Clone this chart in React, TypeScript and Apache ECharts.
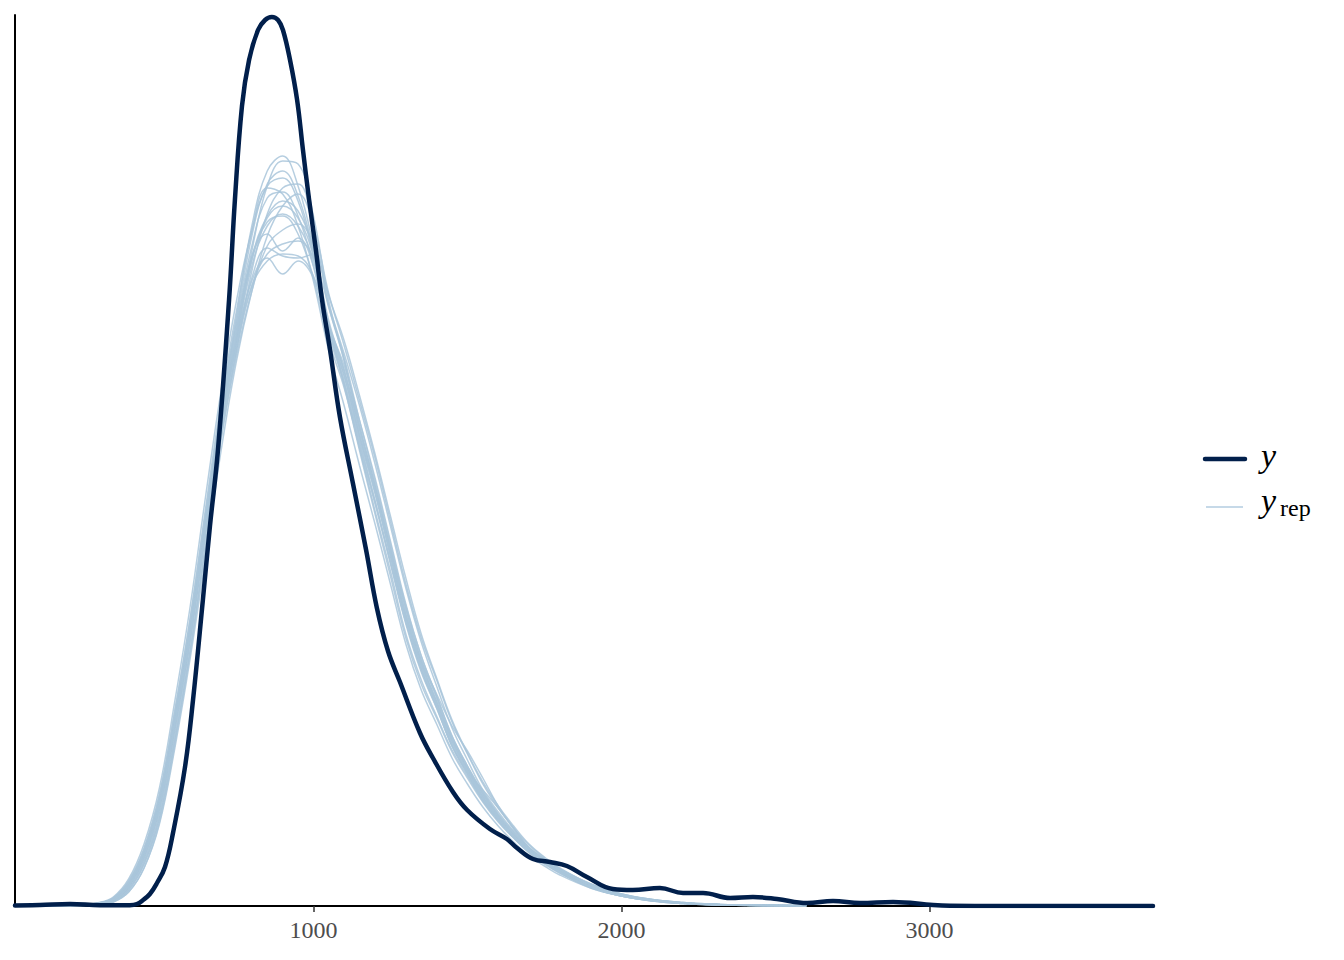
import React, { useEffect, useRef } from 'react';
import * as echarts from 'echarts';

// x positions (data units) shared by every replicated density curve
const X_GRID = [100, 200, 250, 300, 350, 400, 450, 500, 550, 600, 650, 700, 750, 800, 850, 900, 950, 1000, 1050, 1100, 1150, 1200, 1250, 1300, 1350, 1400, 1450, 1500, 1550, 1600, 1650, 1700, 1750, 1800, 1900, 2000, 2100, 2200, 2300, 2400, 2600];

// replicated densities (y_rep), estimated heights
const YREP_01 = [0.3, 0.5, 0.8, 2, 6, 20, 50, 100, 182, 272, 380, 488, 570, 648, 690, 705, 695, 656, 585, 535, 478, 420, 358, 298, 245, 203, 168, 138, 112, 90, 72, 57, 45, 35, 20, 11, 6, 3, 1.5, 0.8, 0.2];
const YREP_02 = [0.2, 0.4, 0.7, 1.8, 5, 18, 46, 95, 176, 268, 382, 497, 590, 680, 735, 750, 720, 660, 580, 522, 458, 395, 335, 272, 226, 190, 156, 130, 105, 85, 68, 54, 43, 33, 19, 10, 5, 2.5, 1.2, 0.6, 0.1];
const YREP_03 = [0.4, 0.7, 1.2, 3, 8, 24, 56, 108, 190, 280, 385, 485, 560, 620, 645, 652, 650, 630, 580, 540, 485, 428, 365, 302, 250, 210, 170, 140, 114, 92, 74, 58, 47, 37, 22, 12, 6.5, 3.5, 1.8, 1, 0.3];
const YREP_04 = [0.3, 0.5, 0.9, 2.2, 6.5, 21, 52, 104, 186, 276, 384, 490, 575, 650, 672, 655, 668, 640, 575, 530, 470, 415, 352, 290, 242, 205, 166, 137, 110, 88, 71, 56, 45, 35, 20, 11, 6, 3, 1.5, 0.8, 0.2];
const YREP_05 = [0.2, 0.3, 0.5, 1.4, 4, 14, 38, 82, 158, 248, 350, 455, 545, 615, 670, 700, 712, 680, 612, 560, 505, 448, 385, 322, 268, 226, 184, 152, 122, 98, 78, 61, 48, 37, 21, 11, 6, 3, 1.5, 0.8, 0.2];
const YREP_06 = [0.5, 0.8, 1.3, 3.2, 9, 27, 62, 118, 205, 300, 410, 515, 605, 675, 718, 712, 680, 625, 555, 500, 440, 382, 322, 262, 216, 182, 148, 122, 99, 80, 64, 50, 40, 31, 18, 10, 5, 2.5, 1.2, 0.6, 0.1];
const YREP_07 = [0.3, 0.5, 0.8, 2, 6, 19, 48, 98, 180, 270, 376, 482, 565, 640, 680, 692, 680, 645, 580, 530, 468, 412, 350, 288, 238, 200, 160, 134, 116, 98, 78, 58, 45, 35, 20, 11, 6, 3, 1.5, 0.8, 0.2];
const YREP_08 = [0.2, 0.4, 0.6, 1.6, 5, 17, 44, 92, 172, 264, 375, 490, 585, 670, 722, 735, 710, 655, 580, 520, 455, 392, 330, 268, 222, 188, 154, 128, 104, 84, 68, 53, 42, 33, 18, 10, 5, 2.5, 1.2, 0.6, 0.1];
const YREP_09 = [0.3, 0.5, 0.8, 2, 6, 20, 50, 100, 180, 268, 372, 475, 555, 620, 652, 662, 665, 648, 600, 552, 500, 442, 380, 318, 264, 220, 178, 146, 116, 94, 75, 59, 47, 37, 22, 12, 6.5, 3.5, 1.8, 1, 0.3];
const YREP_10 = [0.3, 0.5, 0.8, 2, 6, 20, 50, 100, 182, 272, 378, 486, 568, 645, 688, 700, 688, 650, 582, 535, 472, 415, 352, 290, 245, 212, 180, 155, 128, 100, 77, 58, 45, 35, 20, 11, 6, 3, 1.5, 0.8, 0.2];
const YREP_11 = [0.4, 0.6, 1, 2.5, 7, 22, 54, 106, 190, 282, 390, 496, 582, 660, 708, 714, 690, 640, 572, 522, 462, 405, 345, 284, 236, 198, 160, 132, 106, 86, 69, 54, 43, 34, 19, 10.5, 5.5, 2.8, 1.4, 0.7, 0.2];
const YREP_12 = [0.3, 0.5, 0.9, 2.3, 6.5, 21, 52, 104, 186, 276, 384, 488, 565, 625, 648, 632, 645, 628, 578, 535, 476, 420, 358, 296, 246, 208, 168, 139, 112, 90, 72, 57, 46, 36, 21, 11.5, 6, 3, 1.5, 0.8, 0.2];
const YREP_13 = [0.2, 0.4, 0.6, 1.5, 4.5, 16, 42, 88, 166, 256, 362, 468, 555, 635, 692, 718, 722, 678, 600, 545, 480, 420, 356, 292, 242, 204, 165, 136, 109, 88, 70, 55, 44, 34, 19, 10, 5.5, 2.8, 1.4, 0.7, 0.2];
const YREP_14 = [0.4, 0.7, 1.1, 2.8, 8, 25, 58, 112, 196, 288, 394, 496, 578, 648, 684, 690, 672, 628, 565, 518, 458, 402, 342, 282, 234, 198, 160, 132, 106, 86, 69, 54, 43, 34, 19, 10.5, 5.5, 2.8, 1.4, 0.7, 0.2];
const YREP_15 = [0.2, 0.3, 0.6, 1.5, 4.5, 16, 42, 88, 166, 256, 360, 466, 550, 615, 660, 676, 682, 662, 610, 565, 510, 452, 390, 328, 272, 228, 186, 153, 124, 100, 80, 62, 49, 38, 22, 12, 6.5, 3.4, 1.7, 0.9, 0.3];
const YREP_16 = [0.3, 0.6, 1, 2.6, 7.5, 23, 56, 110, 194, 288, 398, 505, 595, 675, 720, 728, 705, 650, 578, 525, 465, 405, 344, 284, 236, 200, 162, 134, 108, 87, 70, 55, 44, 34, 19, 10.5, 5.5, 2.8, 1.4, 0.7, 0.2];
const YREP_17 = [0.3, 0.5, 0.8, 2, 6, 20, 50, 100, 182, 272, 378, 482, 560, 628, 658, 650, 648, 652, 598, 548, 485, 425, 362, 300, 250, 210, 170, 140, 113, 91, 73, 57, 46, 36, 21, 11.5, 6, 3, 1.5, 0.8, 0.2];
const YREP_18 = [0.2, 0.3, 0.5, 1.3, 4, 14, 38, 84, 162, 254, 362, 475, 570, 655, 720, 745, 742, 690, 605, 545, 478, 416, 352, 290, 240, 202, 164, 135, 108, 87, 70, 55, 44, 34, 19, 10, 5.5, 2.8, 1.4, 0.7, 0.2];

const YREP_ALL = [YREP_01, YREP_02, YREP_03, YREP_04, YREP_05, YREP_06, YREP_07, YREP_08, YREP_09, YREP_10, YREP_11, YREP_12, YREP_13, YREP_14, YREP_15, YREP_16, YREP_17, YREP_18];

// observed density (y)
const Y_OBS_X = [31, 112, 210, 307, 404, 427, 447, 469, 492, 518, 544, 583, 609, 641, 664, 690, 726, 745, 768, 791, 820, 843, 865, 885, 901, 924, 947, 966, 986, 1008, 1028, 1054, 1086, 1128, 1171, 1206, 1242, 1281, 1346, 1388, 1453, 1499, 1573, 1628, 1661, 1713, 1768, 1823, 1888, 1972, 2037, 2125, 2200, 2265, 2353, 2427, 2505, 2603, 2687, 2775, 2882, 3012, 3067, 3229, 3726];
const Y_OBS_DENS = [0.5, 1, 2, 0.8, 0.8, 2, 6, 12, 23, 39, 73, 139, 206, 306, 380, 456, 606, 706, 800, 846, 876, 886, 889, 886, 876, 846, 806, 756, 706, 656, 606, 556, 489, 423, 356, 298, 255, 224, 173, 148, 114, 96, 77, 67, 58, 47, 44, 40, 29, 17, 16, 18, 13, 13, 8, 9, 7, 3, 5, 3, 4, 1, 0.3, 0.05, 0];

const X_TICKS = [1000, 2000, 3000];
const LEGEND_LABELS = ['y', 'y', 'rep'];

const DARK = '#011f4b';
const LIGHT = '#a9c5db';

export default function App() {
  const ref = useRef<HTMLDivElement>(null);

  useEffect(() => {
    if (!ref.current) return;
    const chart = echarts.init(ref.current, null, { renderer: 'svg' });

    const yrepSeries = YREP_ALL.map((arr, k) => ({
      name: 'yrep' + k,
      type: 'line',
      data: X_GRID.map((x, i) => [x, arr[i]]),
      showSymbol: false,
      symbol: 'none',
      smooth: 0.4,
      silent: true,
      lineStyle: { color: LIGHT, width: 1.5, opacity: 0.85 },
      z: 2,
    }));

    const ySeries = {
      name: 'y',
      type: 'line',
      data: Y_OBS_X.map((x, i) => [x, Y_OBS_DENS[i]]),
      showSymbol: false,
      symbol: 'none',
      smooth: 0.4,
      silent: true,
      lineStyle: { color: DARK, width: 4.5, cap: 'round', join: 'round' },
      z: 3,
    };

    chart.setOption({
      animation: false,
      backgroundColor: '#ffffff',
      grid: { left: 15, right: 191, top: 15, bottom: 54, containLabel: false, outerBoundsMode: 'none' },
      xAxis: {
        type: 'value',
        min: 31,
        max: 3726,
        axisLine: { show: true, onZero: false, lineStyle: { color: '#000000', width: 2 } },
        axisTick: { show: true, customValues: X_TICKS, length: 6, lineStyle: { color: '#333333', width: 1.5 } },
        axisLabel: {
          customValues: X_TICKS,
          formatter: (v: number) => String(v),
          color: '#4d4d4d',
          fontFamily: 'Liberation Serif',
          fontSize: 24,
          margin: 12,
        },
        splitLine: { show: false },
      },
      yAxis: {
        type: 'value',
        min: 0,
        max: 891,
        axisLine: { show: true, onZero: false, lineStyle: { color: '#000000', width: 2 } },
        axisTick: { show: false },
        axisLabel: { show: false },
        splitLine: { show: false },
      },
      series: [...yrepSeries, ySeries],
      graphic: [
        {
          type: 'line',
          shape: { x1: 1205, y1: 459, x2: 1245, y2: 459 },
          style: { stroke: DARK, lineWidth: 4.5, lineCap: 'round' },
        },
        {
          type: 'text',
          style: {
            x: 1261,
            y: 455,
            text: LEGEND_LABELS[0],
            fontFamily: 'Liberation Serif',
            fontStyle: 'italic',
            fontSize: 34,
            fill: '#000000',
            align: 'left',
            verticalAlign: 'middle',
          },
        },
        {
          type: 'line',
          shape: { x1: 1206, y1: 507, x2: 1243, y2: 507 },
          style: { stroke: '#b3cde0', lineWidth: 1.3 },
        },
        {
          type: 'text',
          style: {
            x: 1261,
            y: 500,
            text: LEGEND_LABELS[1],
            fontFamily: 'Liberation Serif',
            fontStyle: 'italic',
            fontSize: 34,
            fill: '#000000',
            align: 'left',
            verticalAlign: 'middle',
          },
        },
        {
          type: 'text',
          style: {
            x: 1280,
            y: 508,
            text: LEGEND_LABELS[2],
            fontFamily: 'Liberation Serif',
            fontSize: 24,
            fill: '#000000',
            align: 'left',
            verticalAlign: 'middle',
          },
        },
      ],
    });

    return () => chart.dispose();
  }, []);

  return (
    <div
      ref={ref}
      style={{ position: 'absolute', left: 0, top: 0, width: 1344, height: 960 }}
    />
  );
}
